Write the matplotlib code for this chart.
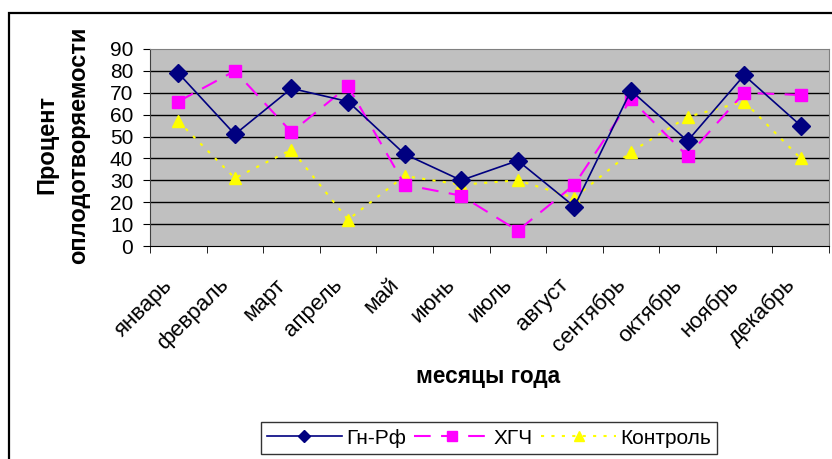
import matplotlib.pyplot as plt
import matplotlib.transforms as mtransforms
from matplotlib.patches import Rectangle
import numpy as np

plt.rcParams['font.family'] = ['Liberation Sans', 'DejaVu Sans']

# data
months = ['январь', 'февраль', 'март', 'апрель', 'май', 'июнь',
          'июль', 'август', 'сентябрь', 'октябрь', 'ноябрь', 'декабрь']
gn_rf = [79, 51, 72, 66, 42, 30, 39, 18, 71, 48, 78, 55]
hgch = [66, 80, 52, 73, 28, 23, 7, 28, 67, 41, 70, 69]
control = [57, 31, 44, 12, 32, 28, 30, 22, 43, 59, 66, 40]
y_ticks = [0, 10, 20, 30, 40, 50, 60, 70, 80, 90]

fig = plt.figure(figsize=(8.32, 4.59), dpi=100)

# outer chart frame
fig.patches.append(Rectangle((9 / 832, -0.05), 1.2, 1 - 13 / 459 + 0.05,
                             transform=fig.transFigure, fill=False,
                             edgecolor='black', linewidth=1.6, zorder=0))

ax = fig.add_axes([150 / 832, 1 - 246 / 459, (829 - 150) / 832, (246 - 49) / 459])
ax.set_facecolor('#c0c0c0')

x = np.arange(len(months))
l1, = ax.plot(x, gn_rf, '-', color='#000080', marker='D', markersize=9,
              linewidth=1.2, label='Гн-Рф', zorder=5)
l2, = ax.plot(x, hgch, '--', color='#ff00ff', marker='s', markersize=8,
              linewidth=1.5, dashes=(8, 5), label='ХГЧ', zorder=4)
l3, = ax.plot(x, control, ':', color='#ffff00', marker='^', markersize=9,
              linewidth=1.5, dashes=(1.5, 3.5), label='Контроль', zorder=3)

ax.set_xlim(-0.5, len(months) - 0.5)
ax.set_ylim(0, 90)
ax.set_yticks(y_ticks)
for t in y_ticks[1:-1]:
    ax.axhline(t, color='black', linewidth=1.0, zorder=1)
ax.tick_params(axis='y', labelsize=15, length=5, direction='out', pad=7)

# category boundaries get the tick marks, labels sit at the centres
ax.set_xticks(np.arange(-0.5, len(months)), minor=True)
ax.set_xticks(x)
ax.set_xticklabels(months, rotation=45, ha='right', va='center',
                   rotation_mode='anchor', fontsize=16)
ax.tick_params(axis='x', which='major', length=0, pad=26)
ax.tick_params(axis='x', which='minor', length=5, direction='out')
shift = mtransforms.ScaledTranslation(-9 / 100, 0, fig.dpi_scale_trans)
for lab in ax.get_xticklabels():
    lab.set_transform(lab.get_transform() + shift)

for s in ['top', 'right']:
    ax.spines[s].set_color('#808080')
ax.spines['left'].set_color('#404040')
ax.spines['bottom'].set_color('black')

fig.text(488 / 832, 1 - 377 / 459, 'месяцы года', ha='center', va='center',
         fontsize=16.3, fontweight='bold')
fig.text(63 / 832, 1 - 145 / 459, 'Процент\nоплодотворяемости', rotation=90,
         ha='center', va='center', fontsize=17, fontweight='bold', linespacing=1.5)

leg = fig.legend(handles=[l1, l2, l3], loc='center', ncol=3,
                 bbox_to_anchor=(489 / 832, 1 - 438 / 459), fontsize=15,
                 frameon=True, fancybox=False, edgecolor='black',
                 handlelength=3.6, handletextpad=0.2, columnspacing=0.4,
                 borderpad=0.3)
leg.get_frame().set_linewidth(1.0)
for h in leg.legend_handles:
    h.set_markersize(6.5)

fig.savefig('out.png', dpi=100)
